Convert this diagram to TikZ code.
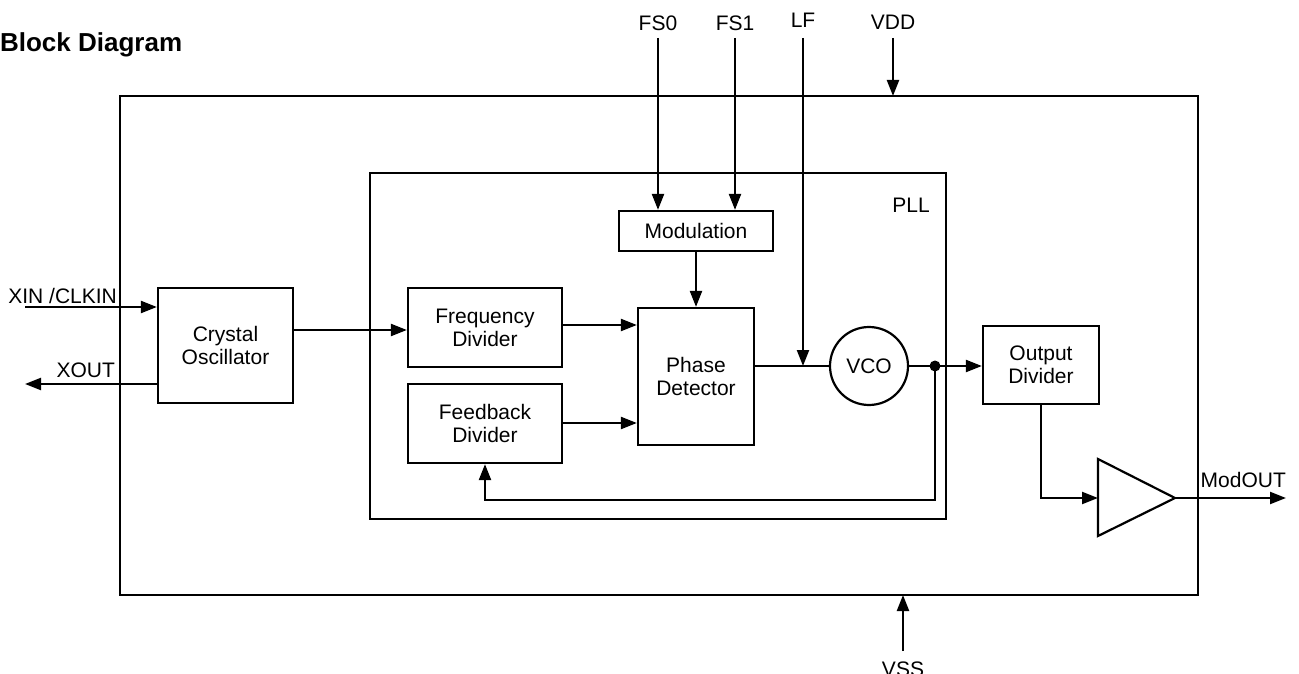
\documentclass[tikz,border=0pt]{standalone}
\usepackage{fontspec}
\setmainfont{Liberation Sans}
\usetikzlibrary{arrows.meta}
\tikzset{
  block/.style={draw, line width=2.2pt, align=center, inner sep=0pt},
  >={Triangle[length=16pt,width=12pt]},
}
\begin{document}
\begin{tikzpicture}[x=1pt,y=-1pt,line width=2.2pt,font=\fontsize{21}{23}\selectfont]
\useasboundingbox (0,0) rectangle (1299,674);
\node[anchor=base west,inner sep=0pt,font=\bfseries\fontsize{26}{30}\selectfont] (title) at (-1,52) {Block Diagram};
% chip outline and PLL area
\draw (120,96) rectangle (1198,595);
\draw (370,173) rectangle (946,519);
\node (plllbl) at (911,205) {PLL};
% blocks
\node[block,minimum width=135pt,minimum height=115pt] (osc) at (225.5,345.5) {Crystal\\Oscillator};
\node[block,minimum width=154pt,minimum height=79pt] (freqdiv) at (485,327.5) {Frequency\\Divider};
\node[block,minimum width=154pt,minimum height=79pt] (fbdiv) at (485,423.5) {Feedback\\Divider};
\node[block,minimum width=116pt,minimum height=137pt] (pd) at (696,376.5) {Phase\\Detector};
\node[block,minimum width=154pt,minimum height=40pt] (mod) at (696,231) {Modulation};
\node[block,circle,minimum size=78pt] (vco) at (869,366) {VCO};
\node[block,minimum width=116pt,minimum height=78pt] (outdiv) at (1041,365) {Output\\Divider};
\coordinate (bufin) at (1098,498);
\coordinate (bufout) at (1175,498);
\draw (1098,459) -- (bufout) -- (1098,536) -- cycle;
\coordinate (dot) at (935,366);
\fill (dot) circle (5.5pt);
% pins
\coordinate (xin) at (25,307);
\coordinate (xout) at (25,384);
\coordinate (fs0) at (658,38);
\coordinate (fs1) at (735,38);
\coordinate (lf) at (803,38);
\coordinate (vdd) at (893,38);
\coordinate (vss) at (903,651);
\coordinate (modout) at (1286,498);
\coordinate (fb) at (485,500);
\node[anchor=base east,inner sep=0pt] (xinlbl) at (118,303) {XIN /CLKIN};
\node[anchor=base east,inner sep=0pt] (xoutlbl) at (116,377) {XOUT};
\node[above,yshift=3pt] (fs0lbl) at (fs0) {FS0};
\node[above,yshift=3pt] (fs1lbl) at (fs1) {FS1};
\node[above,yshift=6pt] (lflbl) at (lf) {LF};
\node[above,yshift=4pt] (vddlbl) at (vdd) {VDD};
\node[below,yshift=-6pt] (vsslbl) at (vss) {VSS};
\node[anchor=base east,inner sep=0pt] (modoutlbl) at (1287,487) {ModOUT};
% connections
\draw[->] (xin) -- (xin -| osc.west);
\draw[->] (xout -| osc.west) -- (xout);
\draw[->] (osc.east |- 0,330) -- (freqdiv.west |- 0,330);
\draw[->] (freqdiv.east |- 0,325) -- (pd.west |- 0,325);
\draw[->] (fbdiv.east |- 0,423) -- (pd.west |- 0,423);
\draw[->] (mod) -- (pd);
\draw[->] (fs0) -- (fs0 |- mod.north);
\draw[->] (fs1) -- (fs1 |- mod.north);
\draw[->] (vdd) -- (vdd |- 0,96);
\draw[->] (vss) -- (vss |- 0,595);
\draw (pd.east |- vco) -- (vco.west);
\draw[->] (lf) -- (lf |- vco);
\draw (vco) -- (dot);
\draw[->] (dot) -- (dot -| outdiv.west);
\draw[->] (dot) |- (fb) -- (fbdiv.south);
\draw[->] (outdiv.south) |- (bufin);
\draw[->] (bufout) -- (modout);
\end{tikzpicture}
\end{document}
